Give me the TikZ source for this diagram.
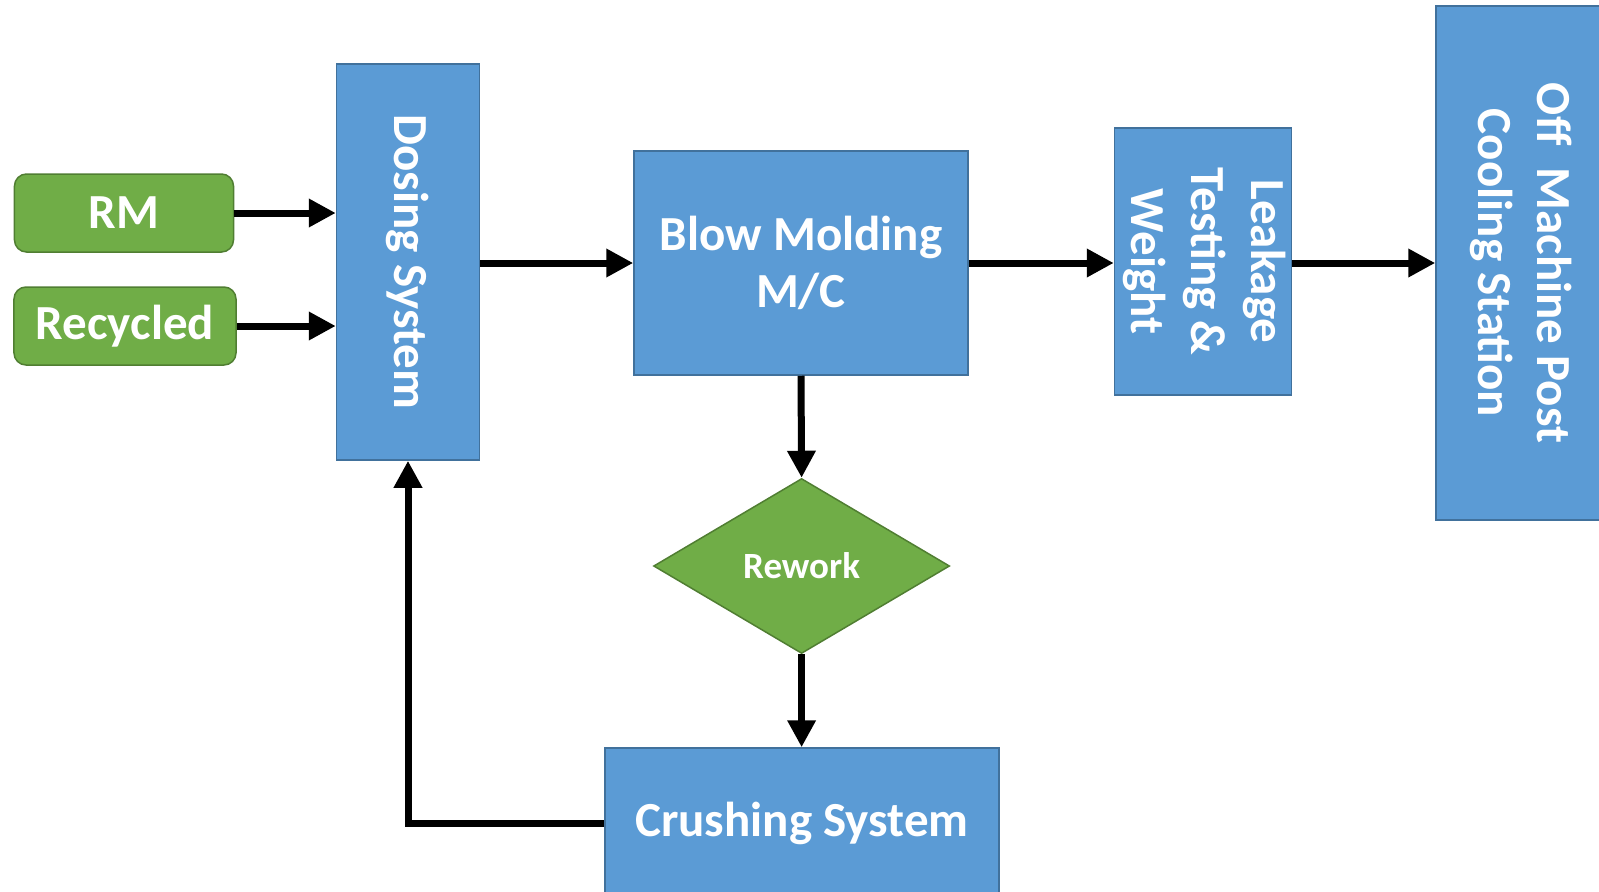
\documentclass[tikz,border=0pt]{standalone}
\usepackage{fontspec}
\setmainfont{Carlito}
\usetikzlibrary{shapes.geometric,arrows.meta,calc}
\definecolor{boxblue}{HTML}{5B9BD5}
\definecolor{boxblueedge}{HTML}{41719C}
\definecolor{boxgreen}{HTML}{70AD47}
\definecolor{boxgreenedge}{HTML}{507E32}
\tikzset{
  bluebox/.style={draw=boxblueedge, line width=1.5bp, fill=boxblue, text=white, inner sep=0pt, align=center,
    font=\fontsize{49bp}{57bp}\selectfont\bfseries},
  greenbox/.style={draw=boxgreenedge, line width=1.5bp, fill=boxgreen, text=white, rounded corners=12bp, inner sep=0pt,
    font=\fontsize{49bp}{57bp}\selectfont\bfseries},
  greendiamond/.style={diamond, draw=boxgreenedge, line width=1.5bp, fill=boxgreen, text=white, inner sep=0pt,
    font=\fontsize{37bp}{42bp}\selectfont\bfseries},
  flow/.style={line width=7bp, -{Triangle[length=27bp,width=27bp]}}
}
\begin{document}
\begin{tikzpicture}[x=1bp,y=-1bp]
\useasboundingbox (0,0) rectangle (1599,891);
\node[bluebox, minimum width=143bp, minimum height=396bp] (dosing) at (408,262) {\rotatebox{-90}{Dosing System}};
\node[greenbox, minimum width=219bp, minimum height=78bp] (rm) at (124,213) {RM};
\node[greenbox, minimum width=222bp, minimum height=78bp] (rec) at (125,326) {Recycled};
\node[bluebox, minimum width=334bp, minimum height=224bp] (blow) at (801,263) {Blow Molding\\M/C};
\node[bluebox, minimum width=176bp, minimum height=267bp] (leak) at (1203,261.5) {\rotatebox{-90}{\begin{tabular}{@{}c@{}}Leakage\\[3bp]Testing \&\\[3bp]Weight\end{tabular}}};
\node[bluebox, minimum width=166bp, minimum height=514bp] (off) at (1519,263) {\rotatebox{-90}{\begin{tabular}{@{}c@{}}Off\ \ Machine Post\\[2bp]Cooling Station\end{tabular}}};
\node[greendiamond, minimum width=296bp, minimum height=175bp] (rework) at (801.6,566) {Rework};
\node[bluebox, minimum width=394bp, minimum height=150bp] (crush) at (802,823) {Crushing System};
\draw[flow] (rm.east) -- (rm.east -| dosing.west);
\draw[flow] (rec.east) -- (rec.east -| dosing.west);
\draw[flow] (dosing.east |- blow.west) -- (blow.west);
\draw[flow] (blow.east) -- (blow.east -| leak.west);
\draw[flow] (leak.east |- blow.east) -- (blow.east -| off.west);
\draw[flow] (blow.south) -- (rework.north);
\draw[flow] (rework.south) -- (rework.south |- crush.north);
\draw[flow] (crush.west) -| (dosing.south);
\end{tikzpicture}
\end{document}
